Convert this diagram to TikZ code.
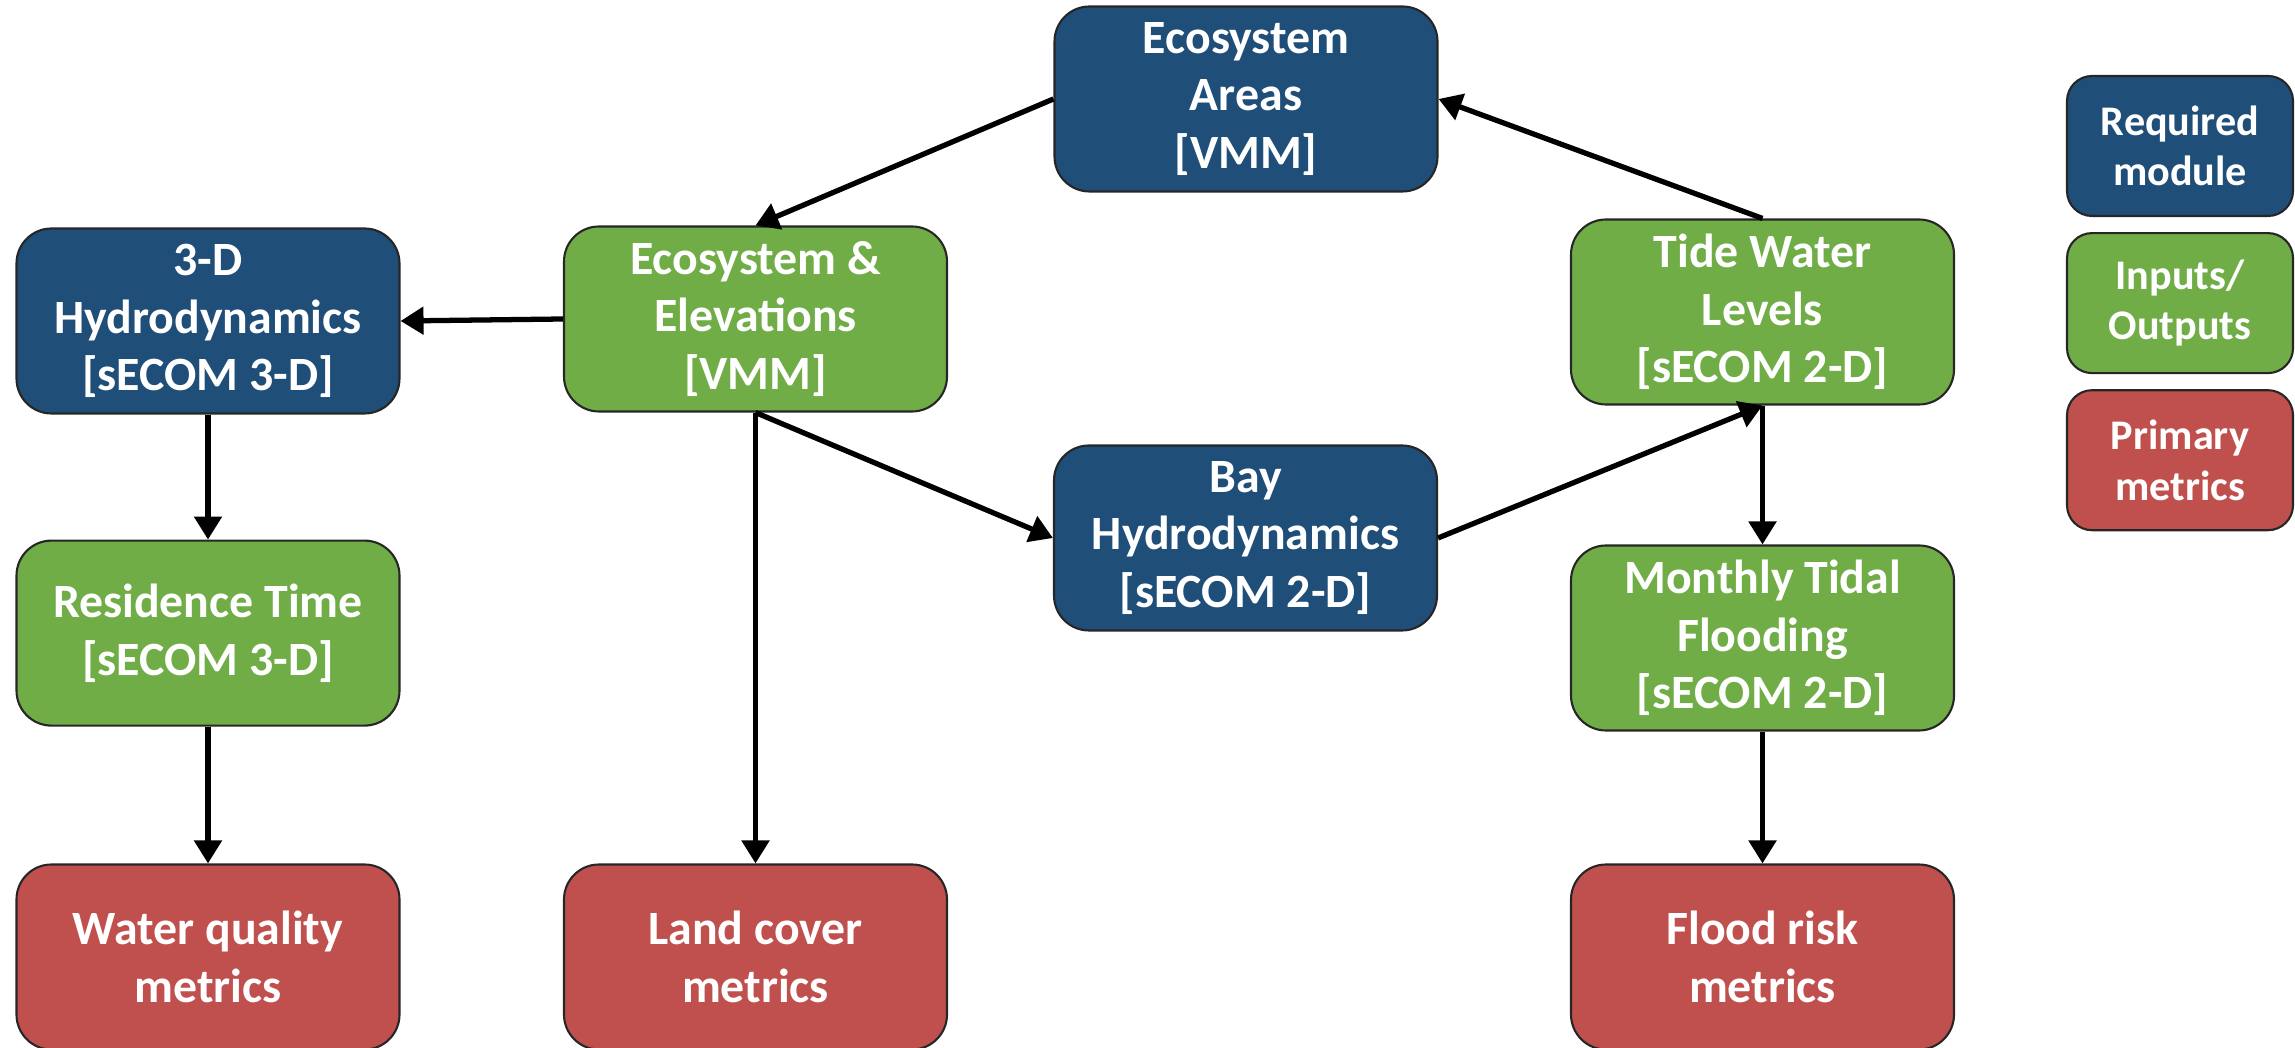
\documentclass[tikz,border=0pt]{standalone}
\usepackage{fontspec}
\setmainfont{Carlito}
\usepackage{xcolor}
\usepackage{tikz}
\usetikzlibrary{positioning,arrows.meta}

\definecolor{modblue}{HTML}{1F4E79}
\definecolor{iogreen}{HTML}{70AD47}
\definecolor{metred}{HTML}{C0504D}

\begin{document}
\begin{tikzpicture}[
  every node/.style={font=\fontsize{13.6}{16.4}\selectfont\bfseries, text=white},
  module/.style={draw=black!85, line width=0.6pt, fill=modblue, rounded corners=0.35cm,
                 minimum width=3.83cm, minimum height=1.85cm, align=center, inner sep=0pt},
  io/.style    ={module, fill=iogreen},
  metric/.style={module, fill=metred},
  key/.style   ={draw=black!85, line width=0.6pt, rounded corners=0.25cm,
                 minimum width=2.26cm, minimum height=1.40cm, align=center, inner sep=0pt,
                 font=\fontsize{12}{14.4}\selectfont\bfseries},
  arr/.style   ={-{Triangle[length=2.3mm, width=2.7mm]}, line width=1.5pt, black}
]
\useasboundingbox (0,0) rectangle (22.95,10.48);

%% --- Modules -------------------------------------------------
\node[module] (areas) at (12.46, 9.49) {Ecosystem\\Areas\\{[}VMM{]}};
\node[module] (hydro3d) at (2.08, 7.27) {3-D\\Hydrodynamics\\{[}sECOM 3-D{]}};
\node[module] (bay) at (12.455, 5.10) {Bay\\Hydrodynamics\\{[}sECOM 2-D{]}};

%% --- Inputs / outputs ----------------------------------------
\node[io] (elev) at (7.555, 7.29) {Ecosystem \&\\Elevations\\{[}VMM{]}};
\node[io] (tide) at (17.625, 7.36) {Tide Water\\Levels\\{[}sECOM 2-D{]}};
\node[io, below=1.25cm of hydro3d] (restime) {Residence Time\\{[}sECOM 3-D{]}};
\node[io] (flooding) at (17.625, 4.10) {Monthly Tidal\\Flooding\\{[}sECOM 2-D{]}};

%% --- Primary metrics -----------------------------------------
\node[metric] (wq) at (2.08, 0.91) {Water quality\\metrics};
\node[metric] (land) at (7.555, 0.91) {Land cover\\metrics};
\node[metric] (flood) at (17.625, 0.91) {Flood risk\\metrics};

%% --- Legend --------------------------------------------------
\node[key, fill=modblue] (keyreq) at (21.80, 9.02) {Required\\module};
\node[key, fill=iogreen, below=0.15cm of keyreq] (keyio) {Inputs/\\Outputs};
\node[key, fill=metred, below=0.15cm of keyio] (keymet) {Primary\\metrics};

%% --- Arrows --------------------------------------------------
\draw[arr] (areas.west) -- (elev.north);
\draw[arr] (elev.west) -- (hydro3d.east);
\draw[arr] (elev.south) -- (land.north);
\draw[arr] (elev.south) -- (bay.west);
\draw[arr] (bay.east) -- (tide.south);
\draw[arr] (tide.north) -- (areas.east);
\draw[arr] (tide.south) -- (flooding.north);
\draw[arr] (flooding.south) -- (flood.north);
\draw[arr] (hydro3d.south) -- (restime.north);
\draw[arr] (restime.south) -- (wq.north);

\end{tikzpicture}
\end{document}
